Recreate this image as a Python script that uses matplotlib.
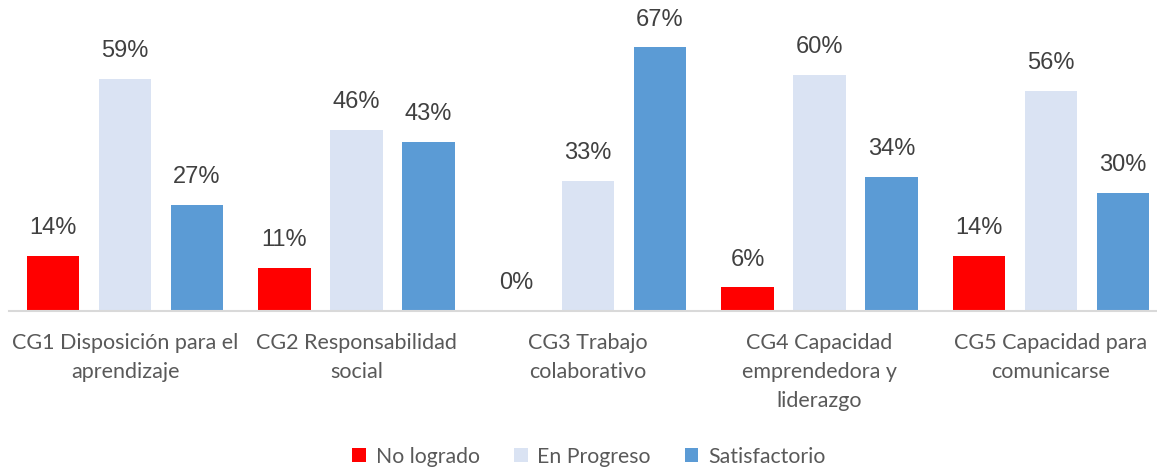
import matplotlib.pyplot as plt
import numpy as np

categories = ['CG1 Disposición para el\naprendizaje',
              'CG2 Responsabilidad\nsocial',
              'CG3 Trabajo\ncolaborativo',
              'CG4 Capacidad\nemprendedora y\nliderazgo',
              'CG5 Capacidad para\ncomunicarse']
series_names = ['No logrado', 'En Progreso', 'Satisfactorio']
no_logrado = [14, 11, 0, 6, 14]
en_progreso = [59, 46, 33, 60, 56]
satisfactorio = [27, 43, 67, 34, 30]

colors = ['#FF0000', '#DAE3F3', '#5B9BD5']
series = [no_logrado, en_progreso, satisfactorio]

fig = plt.figure(figsize=(11.57, 4.67), dpi=100)
ax = fig.add_axes([9.25 / 1157, 156 / 467, 1157.5 / 1157, 311 / 467])

x = np.arange(len(categories))
offsets = [-0.311, 0, 0.311]
for vals, off, col, name in zip(series, offsets, colors, series_names):
    bars = ax.bar(x + off, np.array(vals) / 100, width=0.225, color=col, label=name)
    ax.bar_label(bars, labels=['{}%'.format(v) for v in vals], padding=12,
                 fontsize=17, color='#404040', family='Liberation Sans')

ax.set_xlim(-0.5, len(categories) - 0.5)
ax.set_ylim(0, 0.79)
ax.set_yticks([])
ax.set_xticks(x)
ax.set_xticklabels(categories, fontsize=15.5, color='#595959', family='Lato', linespacing=1.55)
ax.tick_params(axis='x', length=0, pad=16)
for s in ['top', 'right', 'left']:
    ax.spines[s].set_visible(False)
ax.spines['bottom'].set_color('#D9D9D9')
ax.spines['bottom'].set_linewidth(1.5)

fig.legend(loc='lower center', bbox_to_anchor=(0.509, -0.04), ncol=3, frameon=False,
           prop={'family': 'Lato', 'size': 15.3}, labelcolor='#595959',
           handlelength=0.65, handleheight=0.65, handletextpad=0.45, columnspacing=1.6)

fig.savefig('out.png', dpi=100)
